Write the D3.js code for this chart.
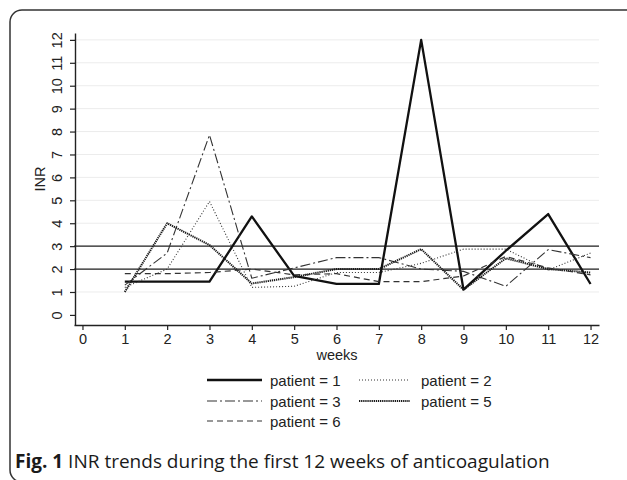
<!DOCTYPE html>
<meta charset="utf-8">
<style>
body { margin: 0; background: #fff; }
.tick text, .lab { font-family: "Liberation Sans", Arial, sans-serif; fill: #222; }
.caption { font-family: "Open Sans", sans-serif; font-size: 19px; fill: #1a1a1a; }
</style>
<body>
<script src="https://d3js.org/d3.v7.min.js"></script>
<script>
// weeks and INR values
var weeks = [1, 2, 3, 4, 5, 6, 7, 8, 9, 10, 11, 12];
var patient1 = [1.45, 1.45, 1.45, 4.3, 1.7, 1.35, 1.35, 12, 1.1, 2.8, 4.4, 1.35];
var patient2 = [1.2, 2.0, 4.95, 1.2, 1.25, 1.85, 1.85, 2.25, 2.87, 2.87, 1.96, 2.7];
var patient3 = [1.3, 2.7, 7.85, 1.6, 2.05, 2.5, 2.5, 2.0, 1.9, 1.25, 2.85, 2.5];
var patient5 = [1.0, 4.0, 3.05, 1.37, 1.65, 2.0, 2.0, 2.87, 1.1, 2.47, 2.0, 1.85];
var patient6 = [1.8, 1.8, 1.85, 2.0, 1.75, 1.8, 1.45, 1.45, 1.7, 2.55, 2.05, 1.75];
var xTicks = [0, 1, 2, 3, 4, 5, 6, 7, 8, 9, 10, 11, 12];
var yTicks = [0, 1, 2, 3, 4, 5, 6, 7, 8, 9, 10, 11, 12];
var refLines = [2, 3];

var series = [
  {name: "patient = 1", values: patient1, width: 2.3, dash: null, color: "#111"},
  {name: "patient = 2", values: patient2, width: 1.1, dash: "1,2", color: "#333"},
  {name: "patient = 3", values: patient3, width: 1.1, dash: "10,3,2,3", color: "#333"},
  {name: "patient = 5", values: patient5, width: 2, dash: "1.3,0.8", color: "#1a1a1a"},
  {name: "patient = 6", values: patient6, width: 1.2, dash: "6,4", color: "#333"}
];

var W = 627, H = 480;
var svg = d3.select("body").append("svg")
    .attr("width", W)
    .attr("height", H);

// outer frame
svg.append("rect")
    .attr("x", 10).attr("y", 10)
    .attr("width", 650).attr("height", 472)
    .attr("rx", 12)
    .attr("fill", "none")
    .attr("stroke", "#333")
    .attr("stroke-width", 1.5);

var x = d3.scaleLinear().domain([-0.2, 12.2]).range([74, 599]);
var y = d3.scaleLinear().domain([-0.44, 12.3]).range([325, 33]);

// grid lines
svg.append("g")
  .selectAll("line")
  .data(yTicks.filter(function(d) { return d > 0; }))
  .enter().append("line")
    .attr("x1", x.range()[0]).attr("x2", x.range()[1])
    .attr("y1", function(d) { return y(d); })
    .attr("y2", function(d) { return y(d); })
    .attr("stroke", "#ececec")
    .attr("stroke-width", 1);

// target range lines
svg.append("g")
  .selectAll("line")
  .data(refLines)
  .enter().append("line")
    .attr("x1", x.range()[0]).attr("x2", x.range()[1])
    .attr("y1", function(d) { return y(d); })
    .attr("y2", function(d) { return y(d); })
    .attr("stroke", "#222")
    .attr("stroke-width", 1.3);

// axes
var xAxis = svg.append("g")
    .attr("transform", "translate(0,325)")
    .call(d3.axisBottom(x).tickValues(xTicks).tickSize(5).tickSizeOuter(0).tickPadding(4));
xAxis.selectAll("text").attr("font-size", 14.5);

var yAxis = svg.append("g")
    .attr("transform", "translate(75,0)")
    .call(d3.axisLeft(y).tickValues(yTicks).tickSize(5).tickSizeOuter(0));
yAxis.selectAll("text")
    .attr("font-size", 14.5)
    .attr("text-anchor", "middle")
    .attr("dy", null)
    .attr("dominant-baseline", "central")
    .attr("x", 0)
    .attr("transform", "translate(-18,0) rotate(-90)");

svg.selectAll(".domain").attr("stroke", "#222").attr("stroke-width", 1.4);
svg.selectAll(".tick line").attr("stroke", "#222").attr("stroke-width", 1.2);

svg.append("text")
    .attr("class", "lab")
    .attr("font-size", 14.5)
    .attr("text-anchor", "middle")
    .attr("dominant-baseline", "central")
    .attr("transform", "translate(40,179) rotate(-90)")
    .text("INR");

svg.append("text")
    .attr("class", "lab")
    .attr("font-size", 14.5)
    .attr("text-anchor", "middle")
    .attr("x", 337).attr("y", 360)
    .text("weeks");

// series lines
var line = d3.line()
    .x(function(d, i) { return x(weeks[i]); })
    .y(function(d) { return y(d); });

svg.append("g")
  .selectAll("path")
  .data(series)
  .enter().append("path")
    .attr("d", function(d) { return line(d.values); })
    .attr("fill", "none")
    .attr("stroke", function(d) { return d.color; })
    .attr("stroke-width", function(d) { return d.width; })
    .attr("stroke-dasharray", function(d) { return d.dash; })
    .attr("stroke-linejoin", "round");

// legend
var legCols = [207, 359];
var legRows = [380, 401, 421];
var leg = svg.append("g")
  .selectAll("g")
  .data(series)
  .enter().append("g")
    .attr("transform", function(d, i) {
      return "translate(" + legCols[i % 2] + "," + legRows[Math.floor(i / 2)] + ")";
    });
leg.append("line")
    .attr("x1", 0).attr("x2", function(d, i) { return i % 2 ? 51 : 55; })
    .attr("stroke", function(d) { return d.color; })
    .attr("stroke-width", function(d) { return d.width; })
    .attr("stroke-dasharray", function(d) { return d.dash; });
leg.append("text")
    .attr("class", "lab")
    .attr("font-size", 15)
    .attr("x", function(d, i) { return i % 2 ? 62 : 63; })
    .attr("dominant-baseline", "central")
    .text(function(d) { return d.name; });

// caption
var cap = svg.append("text")
    .attr("class", "caption")
    .attr("x", 15).attr("y", 468);
cap.append("tspan").attr("font-weight", "bold").text("Fig. 1");
cap.append("tspan").text(" INR trends during the first 12 weeks of anticoagulation");
</script>
</body>
